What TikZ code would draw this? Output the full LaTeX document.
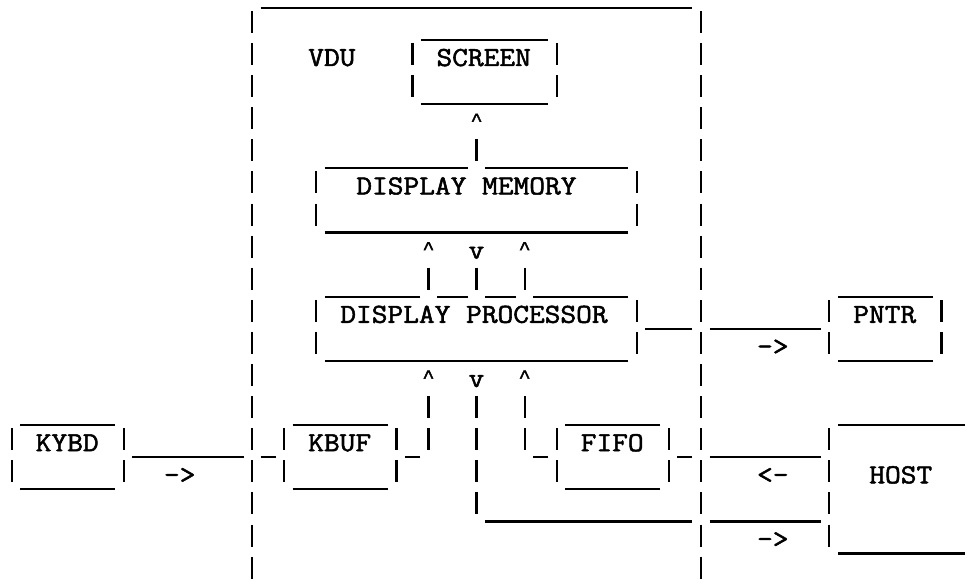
\documentclass[tikz,border=0pt]{standalone}
\usepackage{fontspec}
\newfontfamily\caretfont{Liberation Mono}
\newcommand\heavy[1]{\special{pdf:literal direct 2 Tr 0.55 w}#1\special{pdf:literal direct 0 Tr}}
\newcommand\crt{\makebox[16.03pt]{\raisebox{5pt}{\scalebox{0.75}{\caretfont\fontsize{26.72}{30}\selectfont\textasciicircum}}}}
\tikzset{
  ul/.style={line width=2.2pt, line cap=butt, black},
  bar/.style={line width=2.3pt, line cap=butt, black},
  tt/.style={font=\ttfamily\fontsize{30.53}{32}\selectfont, inner sep=0pt, outer sep=0pt, anchor=base west, text=black}
}
% column k centre: 11.7+16.03k ; row r centre: 32.1r-10.2
\newcommand\asciiH[3]{\draw[ul] ({16.03*#2+4.2},{32.1*#1+7.8}) -- ({16.03*#3+19.2},{32.1*#1+7.8});}
\newcommand\asciiV[2]{\draw[bar] ({16.03*#2+11.7},{32.1*#1-21.2}) -- ({16.03*#2+11.7},{32.1*#1+0.8});}
\newcommand\asciiT[4]{\node[tt] (#1) at ({16.03*#3+3.7},{32.1*#2+1.8}) {\heavy{\scalebox{1}[0.9]{#4}}};}
\begin{document}
\begin{tikzpicture}[x=1pt,y=-1pt]
\useasboundingbox (0,0) rectangle (967,583);
% row 0
\asciiH{0}{16}{42}
% row 1
\asciiV{1}{15}\asciiH{1}{26}{33}\asciiV{1}{43}
% row 2
\asciiV{2}{15}\asciiT{vdu}{2}{19}{VDU}\asciiV{2}{25}\asciiT{screen}{2}{27}{SCREEN}\asciiV{2}{34}\asciiV{2}{43}
% row 3
\asciiV{3}{15}\asciiV{3}{25}\asciiH{3}{26}{33}\asciiV{3}{34}\asciiV{3}{43}
% row 4
\asciiV{4}{15}\asciiT{up1}{4}{29}{\crt}\asciiV{4}{43}
% row 5
\asciiV{5}{15}\asciiH{5}{20}{28}\asciiV{5}{29}\asciiH{5}{30}{38}\asciiV{5}{43}
% row 6
\asciiV{6}{15}\asciiV{6}{19}\asciiT{dmem}{6}{22}{DISPLAY MEMORY}\asciiV{6}{39}\asciiV{6}{43}
% row 7
\asciiV{7}{15}\asciiV{7}{19}\asciiH{7}{20}{38}\asciiV{7}{39}\asciiV{7}{43}
% row 8
\asciiV{8}{15}\asciiT{up2}{8}{26}{\crt}\asciiT{dn1}{8}{29}{v}\asciiT{up3}{8}{32}{\crt}\asciiV{8}{43}
% row 9
\asciiV{9}{15}\asciiH{9}{20}{25}\asciiV{9}{26}\asciiH{9}{27}{28}\asciiV{9}{29}\asciiH{9}{30}{31}\asciiV{9}{32}\asciiH{9}{33}{38}\asciiV{9}{43}\asciiH{9}{52}{57}
% row 10
\asciiV{10}{15}\asciiV{10}{19}\asciiT{dproc}{10}{21}{DISPLAY PROCESSOR}\asciiV{10}{39}\asciiH{10}{40}{42}\asciiV{10}{43}\asciiH{10}{44}{50}\asciiV{10}{51}\asciiT{pntr}{10}{53}{PNTR}\asciiV{10}{58}
% row 11
\asciiV{11}{15}\asciiV{11}{19}\asciiH{11}{20}{38}\asciiV{11}{39}\asciiV{11}{43}\asciiT{toprn}{11}{47}{->}\asciiV{11}{51}\asciiH{11}{52}{57}\asciiV{11}{58}
% row 12
\asciiV{12}{15}\asciiT{up4}{12}{26}{\crt}\asciiT{dn2}{12}{29}{v}\asciiT{up5}{12}{32}{\crt}\asciiV{12}{43}
% row 13
\asciiV{13}{15}\asciiV{13}{26}\asciiV{13}{29}\asciiV{13}{32}\asciiV{13}{43}\asciiH{13}{1}{6}\asciiH{13}{18}{23}\asciiH{13}{35}{40}\asciiH{13}{52}{59}
% row 14
\asciiV{14}{0}\asciiT{kybd}{14}{2}{KYBD}\asciiV{14}{7}\asciiH{14}{8}{14}\asciiV{14}{15}\asciiH{14}{16}{16}\asciiV{14}{17}\asciiT{kbuf}{14}{19}{KBUF}\asciiV{14}{24}\asciiH{14}{25}{25}\asciiV{14}{26}\asciiV{14}{29}\asciiV{14}{32}\asciiH{14}{33}{33}\asciiV{14}{34}\asciiT{fifo}{14}{36}{FIFO}\asciiV{14}{41}\asciiH{14}{42}{42}\asciiV{14}{43}\asciiH{14}{44}{50}\asciiV{14}{51}
% row 15
\asciiV{15}{0}\asciiH{15}{1}{6}\asciiV{15}{7}\asciiT{tokb}{15}{10}{->}\asciiV{15}{15}\asciiV{15}{17}\asciiH{15}{18}{23}\asciiV{15}{24}\asciiV{15}{29}\asciiV{15}{34}\asciiH{15}{35}{40}\asciiV{15}{41}\asciiV{15}{43}\asciiT{fromhost}{15}{47}{<-}\asciiV{15}{51}\asciiT{host}{15}{54}{HOST}
% row 16
\asciiV{16}{15}\asciiV{16}{29}\asciiH{16}{30}{42}\asciiV{16}{43}\asciiH{16}{44}{50}\asciiV{16}{51}
% row 17
\asciiV{17}{15}\asciiV{17}{43}\asciiT{tohost}{17}{47}{->}\asciiV{17}{51}\asciiH{17}{52}{59}
% row 18
\asciiV{18}{15}\asciiV{18}{43}
\end{tikzpicture}
\end{document}
